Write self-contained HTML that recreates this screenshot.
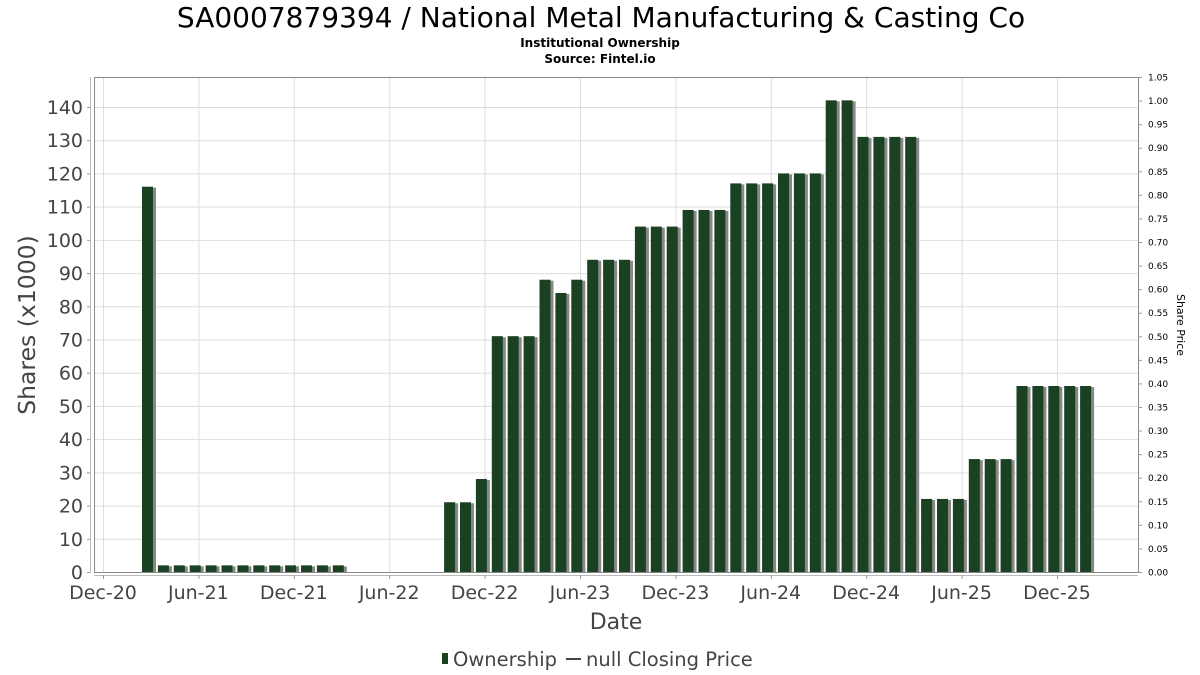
<!DOCTYPE html>
<html><head><meta charset="utf-8"><style>
body{margin:0;background:#fff;}
svg{display:block;font-family:"DejaVu Sans","Liberation Sans",sans-serif;}
</style></head><body>
<svg id="chart" width="1200" height="675" viewBox="0 0 1200 675">
<rect width="1200" height="675" fill="#fff"/>
<text x="601" y="27" font-size="28" text-anchor="middle" fill="#000">SA0007879394 / National Metal Manufacturing &amp; Casting Co</text>
<text x="600" y="47" font-size="12" font-weight="bold" text-anchor="middle" fill="#000">Institutional Ownership</text>
<text x="600" y="63" font-size="12" font-weight="bold" text-anchor="middle" fill="#000">Source: Fintel.io</text>
<g id="grid"></g>
<g id="bars"></g>
<rect x="94.5" y="77.5" width="1044" height="495" fill="none" stroke="#888"/>
<line x1="90.5" y1="77" x2="90.5" y2="573" stroke="#bbb"/>
<line x1="94" y1="575.5" x2="1138" y2="575.5" stroke="#bbb"/>
<g id="yticks"></g>
<g id="rticks"></g>
<g id="xticks"></g>
<text transform="translate(35,325) rotate(-90)" font-size="23.5" text-anchor="middle" fill="#444">Shares (x1000)</text>
<text transform="translate(1177,325) rotate(90)" font-size="11" text-anchor="middle" fill="#000">Share Price</text>
<text x="616" y="629" font-size="22" text-anchor="middle" fill="#444">Date</text>
<g>
<rect x="442" y="653" width="6" height="11" fill="#1a4222"/>
<text x="453" y="666" font-size="19.5" fill="#444">Ownership</text>
<line x1="566" y1="659" x2="581" y2="659" stroke="#444" stroke-width="2"/>
<text x="586" y="666" font-size="19.5" fill="#444">null Closing Price</text>
</g>
</svg>
<script>
// months offset from Dec-2020
const months = [3,4,5,6,7,8,9,10,11,12,13,14,15,22,23,24,25,26,27,28,29,30,31,32,33,34,35,36,37,38,39,40,41,42,43,44,45,46,47,48,49,50,51,52,53,54,55,56,57,58,59,60,61,62];
const shares = [116,2,2,2,2,2,2,2,2,2,2,2,2,21,21,28,71,71,71,88,84,88,94,94,94,104,104,104,109,109,109,117,117,117,120,120,120,142,142,131,131,131,131,22,22,22,34,34,34,56,56,56,56,56];
const yTicks = [0,10,20,30,40,50,60,70,80,90,100,110,120,130,140];
const rTicks = [0,0.05,0.1,0.15,0.2,0.25,0.3,0.35,0.4,0.45,0.5,0.55,0.6,0.65,0.7,0.75,0.8,0.85,0.9,0.95,1.0,1.05];
const xTickLabels = ["Dec-20","Jun-21","Dec-21","Jun-22","Dec-22","Jun-23","Dec-23","Jun-24","Dec-24","Jun-25","Dec-25"];
const xTickMonths = [0,6,12,18,24,30,36,42,48,54,60];

const NS="http://www.w3.org/2000/svg";
const xs = m => 103 + 15.9*m;
const ys = v => 572 - v*465/140;
const yr = p => 572 - p*495/1.05;
function mk(tag, attrs, parent){const e=document.createElementNS(NS,tag);for(const k in attrs)e.setAttribute(k,attrs[k]);parent.appendChild(e);return e;}
const grid=document.getElementById('grid');
yTicks.forEach(v=>{
  const l=mk('line',{x1:95,x2:1138,y1:ys(v)+0.5,y2:ys(v)+0.5,stroke:'#ddd'},grid);
  
  
});
xTickMonths.forEach(m=>{
  const l=mk('line',{x1:xs(m)+0.5,x2:xs(m)+0.5,y1:78,y2:572,stroke:'#ddd'},grid);
  
  
});
const yt=document.getElementById('yticks');
yTicks.forEach(v=>{
  mk('line',{x1:87,x2:90,y1:ys(v)+0.5,y2:ys(v)+0.5,stroke:'#999'},yt);
  const t=mk('text',{x:83,y:ys(v)+7,'font-size':19,'text-anchor':'end',fill:'#444'},yt);
  t.textContent=v;
  
  
});
const rt=document.getElementById('rticks');
rTicks.forEach(p=>{
  mk('line',{x1:1138,x2:1142,y1:yr(p)+0.5,y2:yr(p)+0.5,stroke:'#999'},rt);
  const t=mk('text',{x:1148,y:yr(p)+3.5,'font-size':9,fill:'#000'},rt);
  t.textContent=p.toFixed(2);
  
  
});
const xt=document.getElementById('xticks');
xTickMonths.forEach((m,i)=>{
  mk('line',{x1:xs(m)+0.5,x2:xs(m)+0.5,y1:575,y2:579,stroke:'#999'},xt);
  const t=mk('text',{x:xs(m),y:599,'font-size':19,'text-anchor':'middle',fill:'#444'},xt);
  t.textContent=xTickLabels[i];
  
  
});
const bg=document.getElementById('bars');
months.forEach((m,i)=>{
  const cx=xs(m)-3.2, y=ys(shares[i]), h=572-y;
  const s=mk('rect',{x:cx-5.5+3,y:y+1,width:11,height:h-1,fill:'#888'},bg);
  
  
  const b=mk('rect',{x:cx-5.5,y:y,width:11,height:h,fill:'#1a4222'},bg);
  
  
});
</script>
</body></html>
